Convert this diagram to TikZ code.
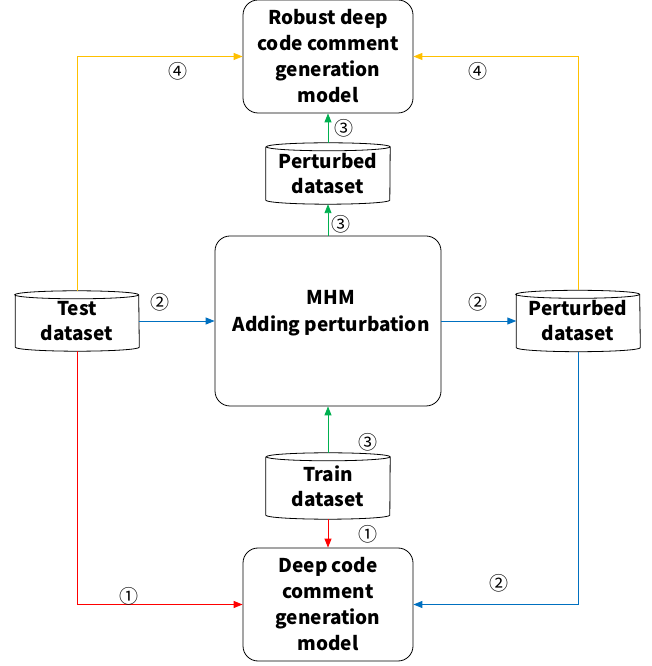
\documentclass[tikz,border=0pt]{standalone}
\usepackage{fontspec}
\setmainfont{Noto Sans CJK SC}
\usetikzlibrary{arrows.meta}
\definecolor{cyel}{HTML}{FFC000}
\definecolor{cgrn}{HTML}{00B050}
\definecolor{cblu}{HTML}{0070C0}
\definecolor{cred}{HTML}{FF0000}
\tikzset{
  box/.style={draw, rounded corners=15pt, line width=0.8pt, align=center, inner sep=0pt,
    font=\fontsize{19}{26}\selectfont\bfseries},
  db/.style={rectangle, inner sep=0pt, align=center, minimum width=124pt,
    font=\fontsize{19}{25}\selectfont\bfseries},
  conn/.style={line width=0.9pt, -{Triangle[length=9pt,width=7pt]}},
  num/.style={font=\fontsize{19}{19}\selectfont, inner sep=0pt},
}
\newcommand{\mycyl}[1]{%
  \draw[line width=0.8pt] ([yshift=-4pt]#1.north west) -- ([yshift=4pt]#1.south west)
    arc[start angle=180, end angle=360, x radius=62pt, y radius=4pt]
    -- ([yshift=-4pt]#1.north east)
    arc[start angle=0, end angle=360, x radius=62pt, y radius=4pt];}
\begin{document}
\begin{tikzpicture}[x=1pt,y=1pt]
\useasboundingbox (0,0) rectangle (652,666);
% nodes
\node[box, minimum width=170pt, minimum height=113pt] (top) at (328,609.5) {Robust deep\\code comment\\generation\\model};
\node[db, minimum height=61pt] (pert1) at (328,492.5) {Perturbed\\dataset};
\node[box, minimum width=226pt, minimum height=170pt] (mhm) at (328,345) {};
\node[font=\fontsize{19}{27}\selectfont\bfseries, align=center, inner sep=0pt] (mhmtext) at (331,353) {MHM\\Adding perturbation};
\node[db, minimum height=60pt, minimum width=123pt] (test) at (77,345) {Test\\dataset};
\node[db, minimum height=61pt, minimum width=123pt] (pert2) at (578,345) {Perturbed\\dataset};
\node[db, minimum height=66pt] (train) at (328,180) {Train\\dataset};
\node[box, minimum width=170pt, minimum height=113pt] (deep) at (328,61.5) {Deep code\\comment\\generation\\model};
\mycyl{pert1}
\mycyl{test}
\mycyl{pert2}
\mycyl{train}
% connectors
\draw[conn, cyel] (test.north) |- (top.west);
\draw[conn, cyel] (pert2.north) |- (top.east);
\draw[conn, cgrn] (pert1.north) -- (top.south);
\draw[conn, cgrn] (mhm.north) -- (pert1.south);
\draw[conn, cgrn] (train.north) -- (mhm.south);
\draw[conn, cred] (train.south) -- (deep.north);
\draw[conn, cred] (test.south) |- (deep.west);
\draw[conn, cblu] (pert2.south) |- (deep.east);
\draw[conn, cblu] (test.east) -- (mhm.west);
\draw[conn, cblu] (mhm.east) -- (pert2.west);
% labels
\node[num] (n4a) at (178,595) {④};
\node[num] (n4b) at (478,595) {④};
\node[num] (n3a) at (344,538) {③};
\node[num] (n3b) at (341,442) {③};
\node[num] (n2a) at (160,364) {②};
\node[num] (n2b) at (478,364) {②};
\node[num] (n3c) at (368,224) {③};
\node[num] (n1a) at (368,132) {①};
\node[num] (n1b) at (129,70) {①};
\node[num] (n2c) at (499,83) {②};
\end{tikzpicture}
\end{document}
